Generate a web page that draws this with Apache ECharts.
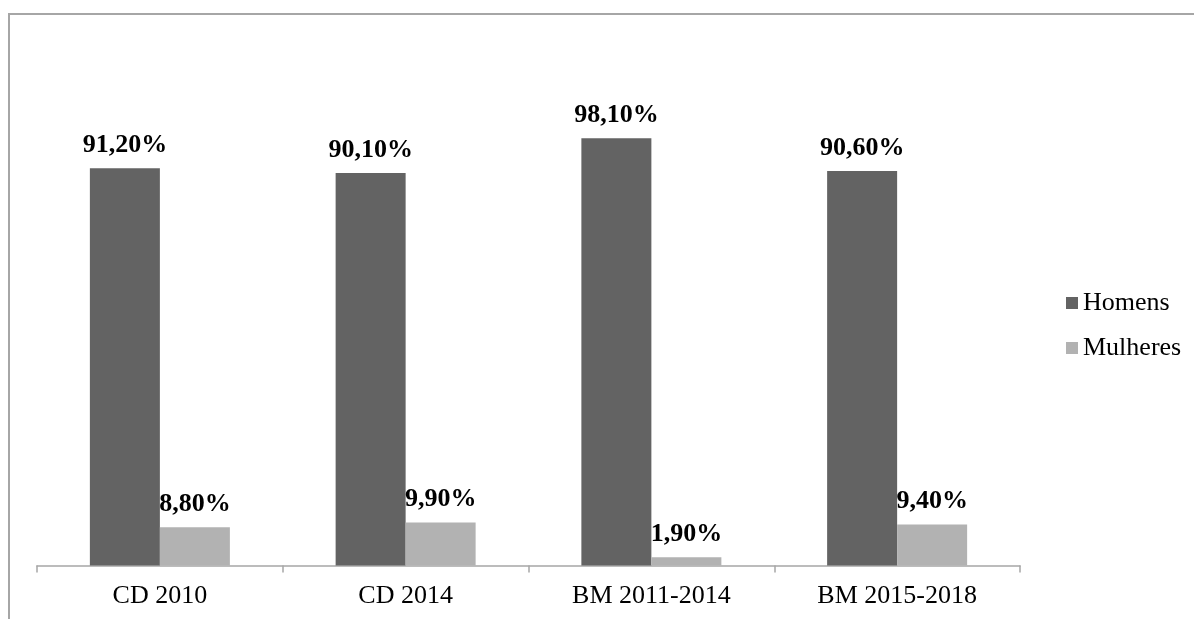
<!DOCTYPE html>
<html>
<head>
<meta charset="utf-8">
<script src="https://cdn.jsdelivr.net/npm/echarts@6/dist/echarts.min.js"></script>
<style>
  html, body { margin: 0; padding: 0; background: #ffffff; }
  #chart { width: 1194px; height: 619px; }
</style>
</head>
<body>
<div id="chart"></div>
<script>
// Categories and percentage values per group
const categories = ['CD 2010', 'CD 2014', 'BM 2011-2014', 'BM 2015-2018'];
const homens = [91.2, 90.1, 98.1, 90.6];
const mulheres = [8.8, 9.9, 1.9, 9.4];
const seriesNames = ['Homens', 'Mulheres'];

const serif = '"Liberation Serif", "Times New Roman", serif';

function pct(v) {
  return v.toFixed(2).replace('.', ',') + '%';
}

const labelStyle = {
  show: true,
  position: 'top',
  distance: 10,
  fontFamily: serif,
  fontSize: 26,
  fontWeight: 'bold',
  color: '#000000',
  formatter: p => pct(p.value)
};

const chart = echarts.init(document.getElementById('chart'), null, { renderer: 'canvas' });

chart.setOption({
  animation: false,
  backgroundColor: '#ffffff',
  graphic: [{
    type: 'rect',
    shape: { x: 9, y: 14, width: 1400, height: 800 },
    style: { fill: 'none', stroke: '#a6a6a6', lineWidth: 2 },
    silent: true
  }],
  grid: { left: 37, right: 174, top: 130, bottom: 53.5 },
  legend: {
    orient: 'vertical',
    left: 1061,
    top: 285,
    itemWidth: 12,
    itemHeight: 12,
    itemGap: 19,
    icon: 'rect',
    textStyle: { fontFamily: serif, fontSize: 26, color: '#000000' },
    data: seriesNames
  },
  xAxis: {
    type: 'category',
    data: categories,
    axisLine: { lineStyle: { color: '#a6a6a6', width: 1.5 } },
    axisTick: { show: true, length: 7, alignWithLabel: false, lineStyle: { color: '#a6a6a6', width: 1.5 } },
    axisLabel: { fontFamily: serif, fontSize: 26, color: '#000000', margin: 18 }
  },
  yAxis: {
    type: 'value',
    min: 0,
    max: 100,
    show: false,
    splitLine: { show: false }
  },
  series: [
    {
      name: seriesNames[0],
      type: 'bar',
      data: homens,
      barWidth: 70,
      barGap: '0%',
      itemStyle: { color: '#636363' },
      label: labelStyle
    },
    {
      name: seriesNames[1],
      type: 'bar',
      data: mulheres,
      barWidth: 70,
      barGap: '0%',
      itemStyle: { color: '#b2b2b2' },
      label: labelStyle
    }
  ]
});
</script>
</body>
</html>
